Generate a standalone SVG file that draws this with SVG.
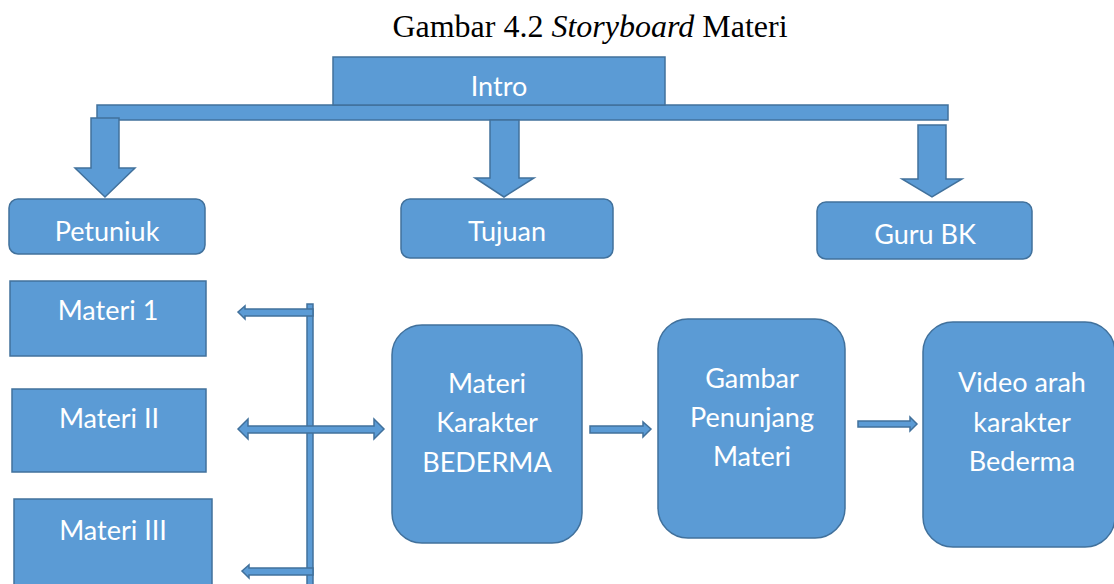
<svg xmlns="http://www.w3.org/2000/svg" width="1114" height="584" viewBox="0 0 1114 584">
<style>
.s{fill:#5B9BD5;stroke:#41719C;stroke-width:1.5}
.t{font-family:Lato,"Open Sans","Liberation Sans",sans-serif;font-size:27px;fill:#fff;text-anchor:middle}
.ti{font-family:"Liberation Serif","Times New Roman",serif;font-size:32px;fill:#000;text-anchor:middle}
</style>
<rect width="1114" height="584" fill="#fff"/>
<text class="ti" x="590" y="37">Gambar 4.2 <tspan font-style="italic">Storyboard</tspan> Materi</text>
<g id="connectors">
<rect class="s" x="97" y="105" width="851" height="15"/>
<polygon class="s" points="91,118 119,118 119,168 135,168 105,197 75,168 91,168"/>
<polygon class="s" points="490,120 519,120 519,178 534,178 504,197 475,178 490,178"/>
<polygon class="s" points="918,125 946,125 946,179 962,179 932,197 902,179 918,179"/>
<rect class="s" x="307" y="304" width="6" height="285"/>
<polygon class="s" points="313,309 245,309 245,306 238,312 245,319 245,316 313,316"/>
<polygon class="s" points="238,429 248,419 248,426 374,426 374,419 384,429 374,439 374,433 248,433 248,439"/>
<polygon class="s" points="313,568 249,568 249,565 242,571 249,578 249,575 313,575"/>
<polygon class="s" points="590,426 643,426 643,422 651,429 643,437 643,433 590,433"/>
<polygon class="s" points="858,421 910,421 910,417 917,424 910,431 910,427 858,427"/>
</g>
<g id="intro"><rect class="s" x="333" y="57" width="332" height="48"/><text class="t" x="499" y="96">Intro</text></g>
<g id="petunjuk"><rect class="s" x="9" y="199" width="196" height="55" rx="9"/><text class="t" x="107" y="241">Petuniuk</text></g>
<g id="tujuan"><rect class="s" x="401" y="199" width="212" height="59" rx="9"/><text class="t" x="507" y="241">Tujuan</text></g>
<g id="gurubk"><rect class="s" x="817" y="202" width="215" height="57" rx="9"/><text class="t" x="925" y="244">Guru BK</text></g>
<g id="materi1"><rect class="s" x="10" y="281" width="196" height="75"/><text class="t" x="108" y="320">Materi 1</text></g>
<g id="materi2"><rect class="s" x="12" y="389" width="194" height="83"/><text class="t" x="109" y="428">Materi II</text></g>
<g id="materi3"><rect class="s" x="14" y="499" width="198" height="95"/><text class="t" x="113" y="540">Materi III</text></g>
<g id="karakter"><rect class="s" x="392" y="325" width="190" height="218" rx="30"/><text class="t" x="487" y="393">Materi</text><text class="t" x="487" y="432">Karakter</text><text class="t" x="487" y="472">BEDERMA</text></g>
<g id="gambar"><rect class="s" x="658" y="319" width="187" height="219" rx="30"/><text class="t" x="752" y="388">Gambar</text><text class="t" x="752" y="427">Penunjang</text><text class="t" x="752" y="466">Materi</text></g>
<g id="video"><rect class="s" x="923" y="322" width="192" height="225" rx="30"/><text class="t" x="1022" y="392">Video arah</text><text class="t" x="1022" y="432">karakter</text><text class="t" x="1022" y="471">Bederma</text></g>
</svg>
